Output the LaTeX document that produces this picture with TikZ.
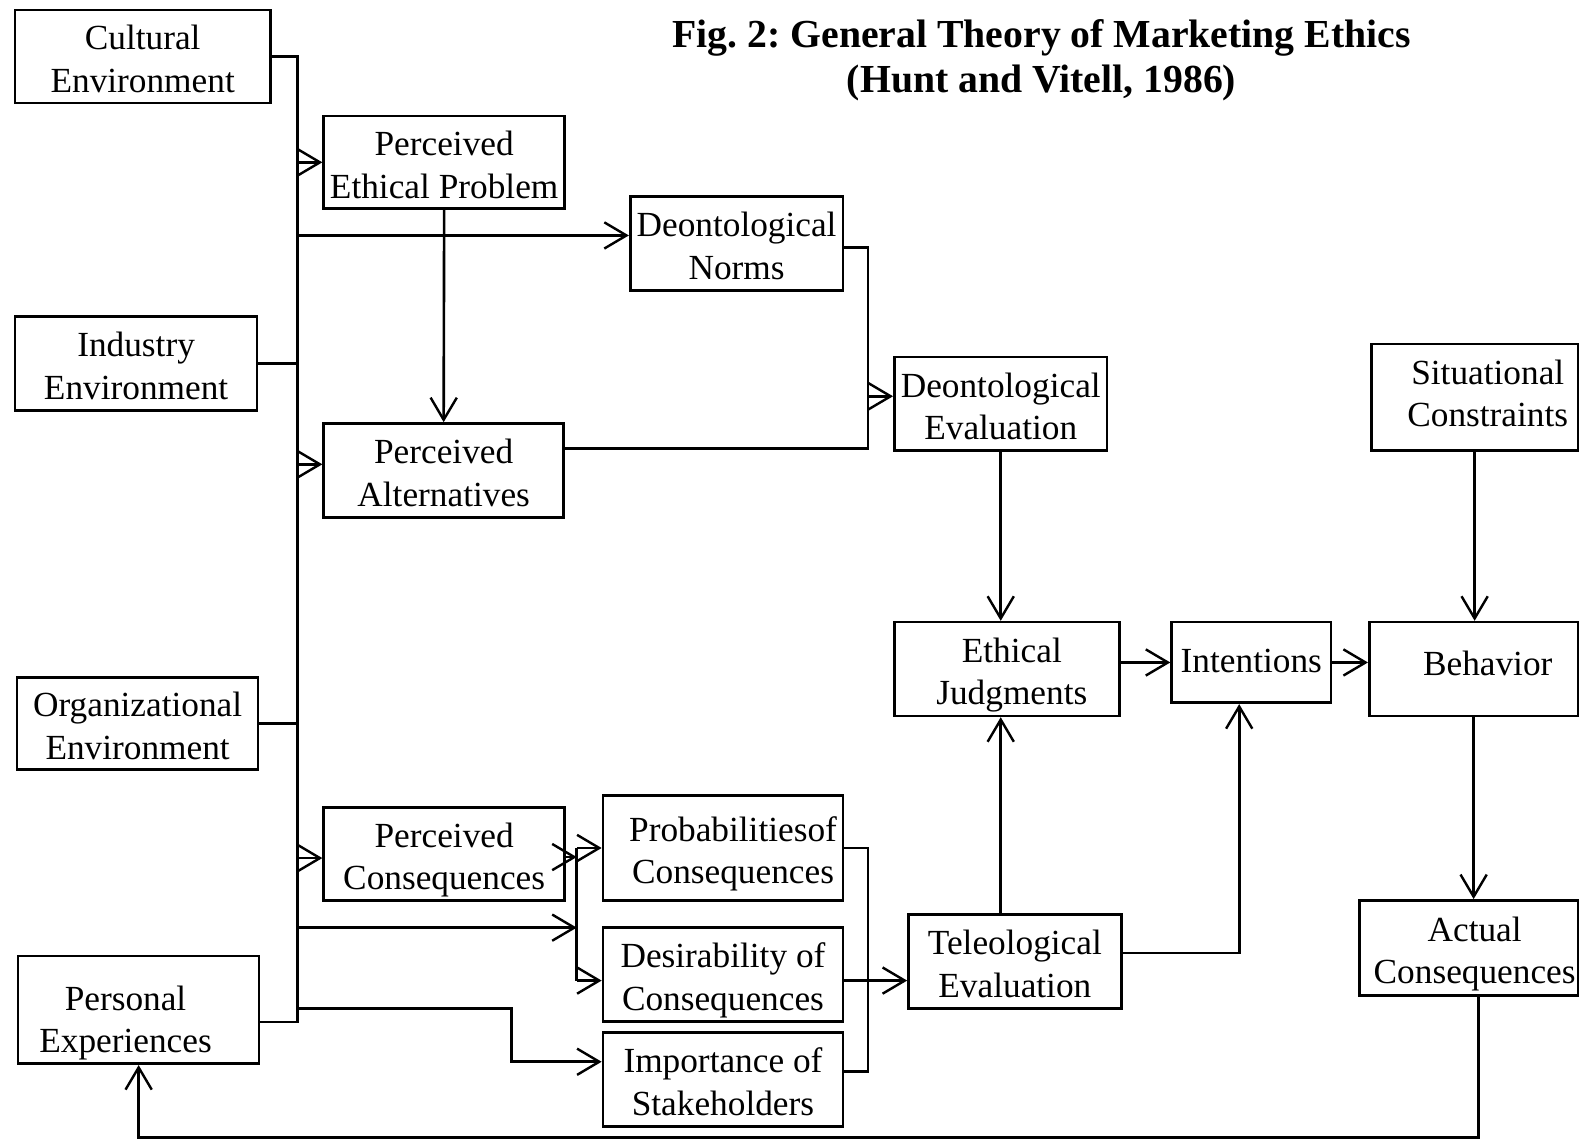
\documentclass[tikz,border=0pt]{standalone}
\usepackage{fontspec}
\setmainfont{Liberation Serif}
\usetikzlibrary{arrows.meta}

% box given by its corners (x1,y1) (x2,y2) in drawing units;
% the optional argument moves the text sideways (in drawing units)
\newcommand\mkbox[7][0]{%
  \node[box, minimum width={(#5-#3)*0.5pt}, minimum height={(#6-#4)*0.5pt}]
    (#2) at ({(#3+#5)/2},{(#4+#6)/2})
    {\raisebox{-3pt}[\height][\depth]{\kern#1pt\begin{tabular}{@{}c@{}}#7\end{tabular}}};}
% raise a piece of box text without changing its reported size
\newcommand\lift[2]{\raisebox{#1}[\height][\depth]{#2}}
\newcommand\twolines[2]{\begin{tabular}{@{}c@{}}#1\\#2\end{tabular}}

\begin{document}
\frenchspacing
\begin{tikzpicture}[x=0.5pt,y=-0.5pt,
  box/.style={draw, line width=1.3pt, inner sep=0pt, align=center,
    font=\fontsize{17.5pt}{21pt}\selectfont},
  link/.style={line width=1.3pt},
  arr/.style={link, -{Straight Barb[length=11pt,width=13pt,line width=1.2pt]}},
  titletext/.style={align=center, font=\fontsize{19.7pt}{22.5pt}\selectfont\bfseries}]

\useasboundingbox (0,0) rectangle (1568,1131);

% title
\node[titletext] (title) at (1033,60) {Fig. 2: General Theory of Marketing Ethics\\(Hunt and Vitell, 1986)};

% environment boxes
\mkbox{cult}{15}{10}{268}{102}{Cultural\\Environment}
\mkbox{ind}{15}{314}{255}{407}{Industry\\Environment}
\mkbox{org}{17}{672}{256}{763}{Organizational\\Environment}
\mkbox[-13]{pers}{18}{948}{257}{1055}{\lift{-3.5pt}{\twolines{Personal}{Experiences}}}

% perception boxes
\mkbox{pep}{321}{115}{560}{207}{Perceived\\Ethical Problem}
\mkbox{dn}{625}{195}{836}{288}{Deontological\\Norms}
\mkbox{pa}{321}{420}{559}{513}{Perceived\\Alternatives}
\mkbox{pc}{321}{801}{560}{893}{Perceived\\Consequences}
\mkbox[10]{prob}{598}{789}{836}{893}{Probabilitiesof\\Consequences}
\mkbox{des}{598}{920}{836}{1013}{Desirability of\\Consequences}
\mkbox{imp}{598}{1024}{836}{1117}{Importance of\\Stakeholders}

% evaluation and outcome boxes
\mkbox{de}{887}{354}{1098}{447}{Deontological\\Evaluation}
\mkbox{te}{901}{907}{1112}{1000}{Teleological\\Evaluation}
\mkbox[5]{ej}{887}{617}{1110}{710}{Ethical\\Judgments}
\mkbox{intn}{1162}{617}{1320}{697}{\lift{2pt}{Intentions}}
\mkbox[14]{beh}{1358}{617}{1565}{710}{\lift{4pt}{Behavior}}
\mkbox[13]{sc}{1360}{341}{1565}{447}{\lift{3pt}{\twolines{Situational}{Constraints}}}
\mkbox[6]{ac}{1348}{893}{1565}{987}{Actual\\Consequences}

% vertical lines shared by several links
\coordinate (bus) at (295,0);
\coordinate (dj) at (861,0);
\coordinate (cj) at (572,0);
\coordinate (tj) at (861,0);
\coordinate (ij) at (1229,0);
\coordinate (sj) at (507,0);
\coordinate (fb) at (0,1128);

% environments feed the main bus
\draw[link] (cult.east) -- (cult.east -| bus) -- ([yshift=-6pt]pers.east -| bus) -- ([yshift=-6pt]pers.east);
\draw[link] (ind.east) -- (ind.east -| bus);
\draw[link] (org.east) -- (org.east -| bus);

% bus to perceptions
\draw[arr] (pep.west -| bus) -- (pep.west);
\draw[arr] ([yshift=4pt]dn.west -| bus) -- ([yshift=4pt]dn.west);
\draw[arr] ([yshift=3pt]pa.west -| bus) -- ([yshift=3pt]pa.west);
\draw[arr] (pep.south) -- (pa.north);
\draw[arr] ([yshift=-2pt]pc.west -| bus) -- ([yshift=-2pt]pc.west);

% deontological branch
\draw[link] ([yshift=-2pt]dn.east) -- ([yshift=-2pt]dn.east -| dj) -- ([yshift=10.75pt]pa.east -| dj) -- ([yshift=10.75pt]pa.east);
\draw[arr] ([yshift=3.75pt]de.west -| dj) -- ([yshift=3.75pt]de.west);
\draw[arr] (de.south) -- (de.south |- ej.north);

% teleological branch
\draw[arr] ([yshift=-1.5pt]pc.east) -- ([yshift=-1.5pt]pc.east -| cj);
\draw[link] (prob.west -| cj) -- ([yshift=-3pt]des.west -| cj);
\draw[arr] (prob.west -| cj) -- (prob.west);
\draw[arr] ([yshift=-3pt]des.west -| cj) -- ([yshift=-3pt]des.west);
\draw[arr] (bus |- 0,920) -- (cj |- 0,920);
\draw[arr] (bus |- 0,1000) -- (sj |- 0,1000) -- ([yshift=8.75pt]imp.west -| sj) -- ([yshift=8.75pt]imp.west);
\draw[link] (prob.east) -- (prob.east -| tj) -- ([yshift=4pt]imp.east -| tj) -- ([yshift=4pt]imp.east);
\draw[arr] ([yshift=-3pt]des.east) -- ([yshift=-3pt]des.east -| te.west);
\draw[arr] (te.north -| de.south) -- (ej.south -| de.south);

% judgments to behaviour
\draw[arr] (intn.west -| ej.east) -- (intn.west);
\draw[arr] (intn.east) -- (intn.east -| beh.west);
\draw[arr] (te.east |- 0,945) -- (ij |- 0,945) -- (ij |- intn.south);
\draw[arr] (sc.south) -- (sc.south |- beh.north);
\draw[arr] (beh.south) -- (beh.south |- ac.north);

% feedback from actual consequences
\draw[arr] ([xshift=5pt]ac.south) -- ([xshift=5pt]ac.south |- fb) -- (pers.south |- fb) -- (pers.south);

\end{tikzpicture}
\end{document}
